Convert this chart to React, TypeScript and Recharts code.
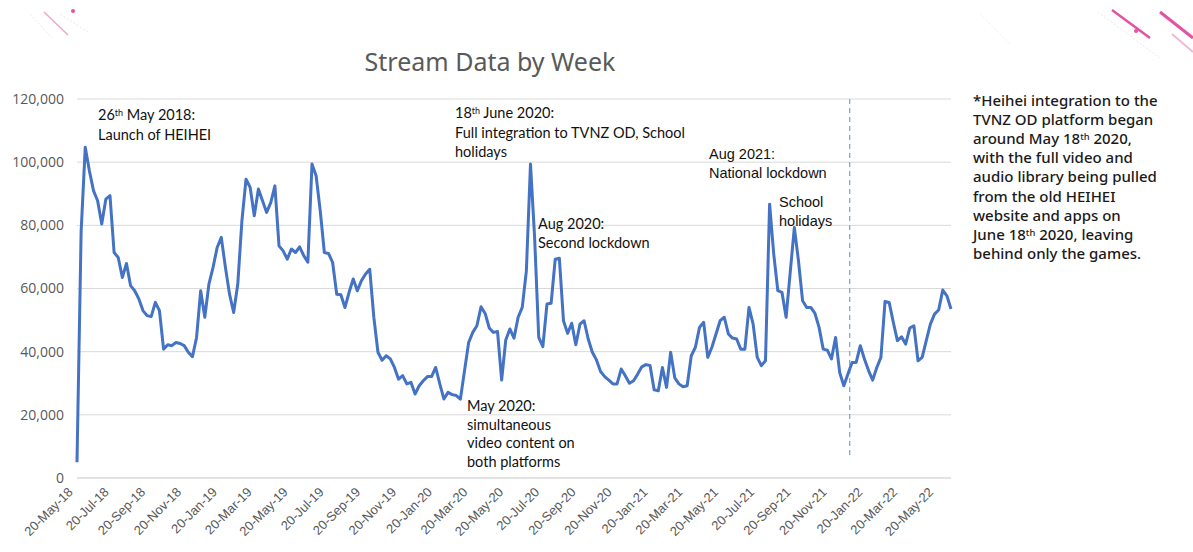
import React from "react";
import {
  LineChart,
  Line,
  XAxis,
  YAxis,
  CartesianGrid,
  ReferenceLine,
} from "recharts";

const START_DATE = "20-May-18";

const streams: number[] = [
  5000, 78000, 104700, 97300, 91000, 87800, 80400, 88300, 89400, 71400,
  69800, 63500, 67900, 60900, 59300, 56700, 53000, 51400, 51100, 55600,
  53000, 40800, 42200, 41900, 42900, 42600, 41900, 39800, 38400, 44500,
  59300, 50900, 61400, 66700, 73000, 76200, 66700, 58200, 52400, 61400,
  81400, 94600, 92000, 83000, 91500, 87800, 84100, 87200, 92500, 73500,
  71900, 69300, 72500, 71400, 73200, 70400, 68300, 99400, 95700, 84600,
  71400, 71100, 68300, 58200, 58000, 54000, 58800, 63000, 59300, 62500,
  64600, 66100, 50900, 39800, 37300, 38700, 37700, 35000, 31300, 32400,
  29800, 30300, 26600, 29200, 30800, 32100, 32100, 35000, 29800, 25000,
  27100, 26400, 26100, 25000, 34000, 42900, 46100, 48200, 54200, 52100,
  47500, 46100, 46400, 31000, 43700, 47200, 44300, 50900, 54000, 65600,
  99400, 76200, 44500, 41600, 55100, 55300, 69300, 69600, 49800, 45800,
  49000, 42200, 48700, 49800, 44000, 39800, 37400, 33700, 32100, 31000,
  29800, 29800, 34500, 32400, 30000, 30800, 32900, 35200, 35900, 35600,
  27900, 27600, 35000, 28700, 39800, 31700, 29800, 28900, 29200, 38700,
  41400, 47700, 49300, 38200, 41400, 45600, 49800, 50900, 45600, 44300,
  44000, 40800, 40800, 54000, 48700, 38200, 35600, 37100, 86700, 70900,
  59300, 58800, 50900, 65100, 79300, 68800, 56100, 54000, 54000, 52100,
  47700, 40800, 40500, 37700, 44500, 33400, 29200, 32900, 36600, 36600,
  41900, 37700, 34000, 31000, 35000, 38200, 55900, 55600, 49300, 43500,
  44700, 42400, 47500, 48200, 37100, 38200, 43500, 48700, 51900, 53200,
  59500, 57700, 53500,
];

const xTickLabels: string[] = [
  "20-May-18", "20-Jul-18", "20-Sep-18", "20-Nov-18", "20-Jan-19",
  "20-Mar-19", "20-May-19", "20-Jul-19", "20-Sep-19", "20-Nov-19",
  "20-Jan-20", "20-Mar-20", "20-May-20", "20-Jul-20", "20-Sep-20",
  "20-Nov-20", "20-Jan-21", "20-Mar-21", "20-May-21", "20-Jul-21",
  "20-Sep-21", "20-Nov-21", "20-Jan-22", "20-Mar-22", "20-May-22",
];

const yTicks: number[] = [0, 20000, 40000, 60000, 80000, 100000, 120000];

const MARKER_DATE = "22-Dec-21";

const MONTHS = ["Jan", "Feb", "Mar", "Apr", "May", "Jun", "Jul", "Aug", "Sep", "Oct", "Nov", "Dec"];

function parseDate(s: string): number {
  const [d, m, y] = s.split("-");
  return Date.UTC(2000 + Number(y), MONTHS.indexOf(m), Number(d));
}

const startMs = parseDate(START_DATE);
const dayOf = (s: string) => Math.round((parseDate(s) - startMs) / 86400000);

const data = streams.map((v, i) => ({ day: i * 7, streams: v }));
const tickDays = xTickLabels.map(dayOf);
const labelByDay: Record<number, string> = {};
xTickLabels.forEach((l, i) => (labelByDay[tickDays[i]] = l));
const markerDay = dayOf(MARKER_DATE);

const fmt = (v: number) => v.toLocaleString("en-US");

const XTick = (props: any) => {
  const { x, y, payload } = props;
  return (
    <g transform={`translate(${x - 3},${y + 2}) rotate(-45)`}>
      <text
        x={-5}
        y={0}
        dy="0.35em"
        textAnchor="end"
        fill="#595959"
        fontSize={13}
        fontFamily="'Liberation Sans', Arial, sans-serif"
        style={{ WebkitFontSmoothing: "antialiased" } as any}
      >
        {labelByDay[payload.value]}
      </text>
    </g>
  );
};

const ann = {
  fontFamily: "Lato, 'Open Sans', sans-serif",
  fontSize: 14.5,
  fill: "#111",
};
const ann2 = {
  fontFamily: "'Liberation Sans', Arial, sans-serif",
  fontSize: 14.5,
  fill: "#111",
};

const Sup = ({ children }: { children: string }) => (
  <tspan fontSize="0.62em" dy="-0.45em">{children}</tspan>
);

const noteLines: React.ReactNode[] = [
  "*Heihei integration to the",
  "TVNZ OD platform began",
  <>around May 18<Sup>th</Sup><tspan dy="0.28em"> 2020,</tspan></>,
  "with the full video and",
  "audio library being pulled",
  "from the old HEIHEI",
  "website and apps on",
  <>June 18<Sup>th</Sup><tspan dy="0.28em"> 2020, leaving</tspan></>,
  "behind only the games.",
];

export default function App() {
  return (
    <div style={{ position: "absolute", left: 0, top: 0, width: 1193, height: 552, background: "#fff" }}>
      <LineChart
        width={1193}
        height={552}
        data={data}
        margin={{ top: 99, right: 242, bottom: 14, left: 7 }}
      >
        <CartesianGrid horizontal vertical={false} stroke="#d9d9d9" strokeWidth={1} />
        <XAxis
          dataKey="day"
          type="number"
          domain={[0, (streams.length - 1) * 7]}
          ticks={tickDays}
          interval={0}
          tick={<XTick />}
          tickLine={false}
          axisLine={{ stroke: "#d9d9d9" }}
          height={60}
          tickSize={4}
          tickMargin={2}
        />
        <YAxis
          type="number"
          domain={[0, 120000]}
          ticks={yTicks}
          tickFormatter={fmt}
          axisLine={false}
          tickLine={false}
          width={70}
          tickSize={0}
          tickMargin={13}
          tick={{ fill: "#595959", fontSize: 14, fontFamily: "'Open Sans', sans-serif" }}
        />
        <ReferenceLine
          segment={[
            { x: markerDay, y: 120000 },
            { x: markerDay, y: 6300 },
          ]}
          stroke="#7fa8d8"
          strokeWidth={1.3}
          strokeDasharray="5 4"
        />
        <Line
          type="linear"
          dataKey="streams"
          stroke="#4472C4"
          strokeWidth={3}
          dot={false}
          isAnimationActive={false}
          strokeLinejoin="round"
        />
      </LineChart>
      <svg
        width={1193}
        height={552}
        style={{ position: "absolute", left: 0, top: 0, pointerEvents: "none" }}
      >
        {/* slide decorations */}
        <g opacity={0.9}>
          <line x1={44} y1={12} x2={68} y2={35} stroke="#e8a0c8" strokeWidth={1.5} />
          <line x1={30} y1={14} x2={52} y2={38} stroke="#e6e6e6" strokeWidth={1} strokeDasharray="2 2" />
          <line x1={60} y1={14} x2={88} y2={32} stroke="#e6e6e6" strokeWidth={1} strokeDasharray="2 2" />
          <circle cx={73} cy={11} r={2} fill="#e0409a" />
        </g>
        <g opacity={0.9}>
          <line x1={1098} y1={12} x2={1160} y2={58} stroke="#e6e6e6" strokeWidth={1} strokeDasharray="2 2" />
          <line x1={1112} y1={10} x2={1150} y2={38} stroke="#e0409a" strokeWidth={2.5} />
          <line x1={1160} y1={12} x2={1193} y2={38} stroke="#e0409a" strokeWidth={3} />
          <line x1={1172} y1={34} x2={1193} y2={52} stroke="#f0b0d4" strokeWidth={2} />
          <circle cx={1136} cy={31} r={2} fill="#e0409a" />
          <line x1={980} y1={14} x2={1010} y2={44} stroke="#eeeeee" strokeWidth={1} strokeDasharray="2 2" />
        </g>

        <text x={490} y={71} textAnchor="middle" fill="#595959" fontSize={25}
          fontFamily="'Noto Sans', 'Open Sans', sans-serif">
          Stream Data by Week
        </text>

        <text x={98} y={120} {...ann}>26<Sup>th</Sup><tspan dy="0.28em"> May 2018:</tspan></text>
        <text x={98} y={140} {...ann}>Launch of HEIHEI</text>

        <text x={455} y={118} {...ann}>18<Sup>th</Sup><tspan dy="0.28em"> June 2020:</tspan></text>
        <text x={455} y={138} {...ann}>Full integration to TVNZ OD, School</text>
        <text x={455} y={157} {...ann}>holidays</text>

        <text x={538} y={229} {...ann}>Aug 2020:</text>
        <text x={538} y={248} {...ann}>Second lockdown</text>

        <text x={467} y={411} {...ann}>May 2020:</text>
        <text x={467} y={430} {...ann}>simultaneous</text>
        <text x={467} y={448} {...ann}>video content on</text>
        <text x={467} y={467} {...ann}>both platforms</text>

        <text x={709} y={159} {...ann2}>Aug 2021:</text>
        <text x={709} y={178} {...ann2}>National lockdown</text>

        <text x={779} y={207} {...ann2}>School</text>
        <text x={779} y={226} {...ann2}>holidays</text>

        {noteLines.map((l, i) => (
          <text key={i} x={973} y={106 + i * 19.1} fill="#1a1a1a" fontSize={15} fontWeight={500}
            fontFamily="'Noto Sans', sans-serif">
            {l}
          </text>
        ))}
      </svg>
    </div>
  );
}
